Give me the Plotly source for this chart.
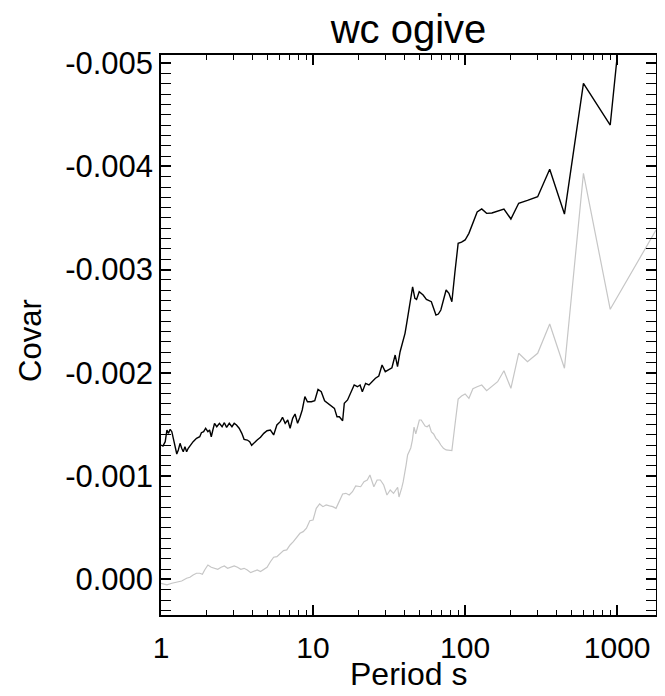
import plotly.graph_objects as go

# ---------------- data ----------------
black_period = [
    1.000, 1.030, 1.066, 1.094, 1.120, 1.149, 1.178, 1.207, 1.238, 1.270,
    1.300, 1.334, 1.368, 1.401, 1.437, 1.474, 1.510, 1.565, 1.627, 1.712,
    1.798, 1.844, 1.908, 1.966, 2.034, 2.087, 2.141, 2.193, 2.249, 2.327,
    2.423, 2.522, 2.610, 2.701, 2.812, 2.928, 3.030, 3.136, 3.265, 3.400,
    3.519, 3.695, 3.830, 3.946, 4.083, 4.290, 4.513, 4.742, 4.982, 5.242,
    5.506, 5.783, 6.084, 6.296, 6.556, 6.815, 7.063, 7.343, 7.611, 7.912,
    8.201, 8.487, 8.836, 9.186, 9.750, 10.26, 10.78, 11.32, 11.91, 12.51,
    13.14, 13.82, 14.37, 14.89, 15.65, 16.05, 16.86, 17.71, 18.64, 19.57,
    20.38, 21.09, 22.15, 23.31, 24.49, 25.72, 27.06, 28.43, 29.85, 31.42,
    33.01, 34.67, 35.93, 37.36, 38.89, 40.25, 41.29, 42.99, 45.16, 46.73,
    47.93, 49.89, 52.96, 55.64, 59.96,
    64.29, 66.67, 69.23, 72.00, 75.00, 78.26, 81.82, 85.71, 90.00, 94.74,
    100.0, 105.9, 112.5, 120.0, 128.6, 138.5, 150.0, 163.6, 180.0, 200.0,
    225.0, 257.1, 300.0, 360.0, 450.0, 600.0, 900.0, 1800.0,
]
black_covar = [
    -1.302e-3, -1.292e-3, -1.334e-3, -1.447e-3, -1.415e-3, -1.454e-3, -1.431e-3, -1.367e-3, -1.302e-3, -1.215e-3,
    -1.254e-3, -1.318e-3, -1.270e-3, -1.237e-3, -1.286e-3, -1.237e-3, -1.270e-3, -1.302e-3, -1.334e-3, -1.367e-3,
    -1.382e-3, -1.421e-3, -1.431e-3, -1.464e-3, -1.431e-3, -1.447e-3, -1.382e-3, -1.447e-3, -1.512e-3, -1.479e-3,
    -1.512e-3, -1.479e-3, -1.518e-3, -1.473e-3, -1.512e-3, -1.479e-3, -1.512e-3, -1.496e-3, -1.464e-3, -1.415e-3,
    -1.357e-3, -1.350e-3, -1.334e-3, -1.299e-3, -1.324e-3, -1.350e-3, -1.377e-3, -1.415e-3, -1.440e-3, -1.447e-3,
    -1.399e-3, -1.496e-3, -1.528e-3, -1.570e-3, -1.512e-3, -1.544e-3, -1.464e-3, -1.560e-3, -1.602e-3, -1.512e-3,
    -1.570e-3, -1.641e-3, -1.770e-3, -1.721e-3, -1.721e-3, -1.731e-3, -1.840e-3, -1.818e-3, -1.730e-3, -1.706e-3,
    -1.673e-3, -1.657e-3, -1.576e-3, -1.576e-3, -1.537e-3, -1.706e-3, -1.738e-3, -1.803e-3, -1.883e-3, -1.866e-3,
    -1.883e-3, -1.818e-3, -1.899e-3, -1.883e-3, -1.915e-3, -1.948e-3, -1.970e-3, -2.076e-3, -2.012e-3, -2.028e-3,
    -2.050e-3, -2.173e-3, -2.060e-3, -2.205e-3, -2.302e-3, -2.383e-3, -2.480e-3, -2.641e-3, -2.834e-3, -2.722e-3,
    -2.712e-3, -2.786e-3, -2.754e-3, -2.712e-3, -2.689e-3,
    -2.560e-3, -2.570e-3, -2.609e-3, -2.706e-3, -2.803e-3, -2.771e-3, -2.689e-3, -2.977e-3, -3.255e-3, -3.267e-3,
    -3.287e-3, -3.351e-3, -3.461e-3, -3.558e-3, -3.587e-3, -3.545e-3, -3.548e-3, -3.567e-3, -3.587e-3, -3.490e-3,
    -3.642e-3, -3.670e-3, -3.706e-3, -3.971e-3, -3.538e-3, -4.804e-3, -4.400e-3, -8.760e-3,
]

grey_period = [
    1.000, 1.094, 1.178, 1.270, 1.368, 1.474, 1.549, 1.627, 1.712, 1.798,
    1.872, 1.937, 2.034, 2.141, 2.249, 2.362, 2.485, 2.610, 2.743, 2.885,
    3.030, 3.184, 3.349, 3.519, 3.695, 3.890, 4.083, 4.290, 4.513, 4.742,
    4.982, 5.242, 5.506, 5.783, 6.084, 6.392, 6.714, 7.063, 7.419, 7.796,
    8.201, 8.614, 9.049, 9.519, 10.00, 10.50, 11.05, 11.61, 12.20, 12.83,
    13.48, 14.16, 14.89, 15.65, 16.44, 17.29, 18.16, 19.08, 20.56, 21.63,
    22.73, 23.66, 25.11, 26.38, 27.71, 29.15, 30.63, 32.17, 33.84,
    36.00, 36.73, 37.50, 38.30, 39.13, 40.00, 40.91, 41.86, 42.86, 43.90,
    45.00, 46.15, 47.37, 48.65, 50.00, 51.43, 52.94, 54.55, 56.25, 58.06,
    60.00, 62.07, 64.29, 66.67, 69.23, 72.00, 75.00, 78.26, 81.82, 85.71,
    90.00, 94.74, 100.0, 105.9, 112.5, 120.0, 128.6, 138.5, 150.0, 163.6,
    180.0, 200.0, 225.0, 257.1, 300.0, 360.0, 450.0, 600.0, 900.0, 1800.0,
]
grey_covar = [
    0.037e-3, 0.053e-3, 0.037e-3, 0.027e-3, 0.015e-3, -0.012e-3, -0.021e-3, -0.044e-3, -0.060e-3, -0.060e-3,
    -0.050e-3, -0.092e-3, -0.140e-3, -0.118e-3, -0.108e-3, -0.099e-3, -0.118e-3, -0.131e-3, -0.108e-3, -0.118e-3,
    -0.131e-3, -0.118e-3, -0.099e-3, -0.108e-3, -0.092e-3, -0.066e-3, -0.076e-3, -0.092e-3, -0.076e-3, -0.099e-3,
    -0.118e-3, -0.172e-3, -0.215e-3, -0.221e-3, -0.247e-3, -0.279e-3, -0.286e-3, -0.334e-3, -0.366e-3, -0.409e-3,
    -0.447e-3, -0.463e-3, -0.496e-3, -0.569e-3, -0.576e-3, -0.689e-3, -0.731e-3, -0.705e-3, -0.721e-3, -0.712e-3,
    -0.705e-3, -0.689e-3, -0.753e-3, -0.828e-3, -0.834e-3, -0.818e-3, -0.850e-3, -0.905e-3, -0.898e-3, -0.947e-3,
    -0.963e-3, -1.012e-3, -0.898e-3, -0.963e-3, -0.963e-3, -0.915e-3, -0.818e-3, -0.866e-3, -0.834e-3,
    -0.893e-3, -0.799e-3, -0.837e-3, -0.886e-3, -0.944e-3, -1.012e-3, -1.108e-3, -1.205e-3, -1.237e-3, -1.273e-3,
    -1.350e-3, -1.476e-3, -1.409e-3, -1.467e-3, -1.544e-3, -1.544e-3, -1.518e-3, -1.486e-3, -1.479e-3, -1.496e-3,
    -1.428e-3, -1.409e-3, -1.367e-3, -1.341e-3, -1.302e-3, -1.270e-3, -1.254e-3, -1.254e-3, -1.247e-3, -1.496e-3,
    -1.747e-3, -1.776e-3, -1.796e-3, -1.754e-3, -1.847e-3, -1.866e-3, -1.883e-3, -1.828e-3, -1.866e-3, -1.915e-3,
    -2.021e-3, -1.851e-3, -2.190e-3, -2.108e-3, -2.190e-3, -2.473e-3, -2.045e-3, -3.932e-3, -2.616e-3, -3.383e-3,
]

x_tick_vals = [1, 10, 100, 1000]
x_tick_text = ["1", "10", "100", "1000"]
x_minor_vals = [m * d for d in (1, 10, 100, 1000) for m in range(2, 10)]
y_tick_vals = [-0.005, -0.004, -0.003, -0.002, -0.001, 0.0]
y_tick_text = ["-0.005", "-0.004", "-0.003", "-0.002", "-0.001", "0.000"]

FONT = "Liberation Sans, Arial, Helvetica, sans-serif"
X_RANGE = [0, 3.2553]

fig = go.Figure()
fig.add_trace(go.Scatter(x=grey_period, y=grey_covar, mode="lines",
                         line=dict(color="#c6c6c6", width=1.2), showlegend=False,
                         hoverinfo="skip"))
fig.add_trace(go.Scatter(x=black_period, y=black_covar, mode="lines",
                         line=dict(color="#000000", width=1.4), showlegend=False,
                         hoverinfo="skip"))
# empty helper trace so the overlaying axis (minor x ticks) is drawn
fig.add_trace(go.Scatter(x=[], y=[], xaxis="x2", mode="lines", showlegend=False,
                         hoverinfo="skip"))

fig.update_layout(
    xaxis=dict(
        type="log", range=X_RANGE,
        tickmode="array", tickvals=x_tick_vals, ticktext=x_tick_text,
        showline=True, linecolor="black", linewidth=1.5, mirror="allticks",
        ticks="inside", ticklen=10, tickwidth=1.5, tickcolor="#000000",
        showgrid=False, zeroline=False, automargin=False,
        tickfont=dict(family=FONT, size=30, color="black"),
        ticklabelstandoff=5,
    ),
    xaxis2=dict(
        type="log", range=X_RANGE, overlaying="x", anchor="y", side="bottom",
        tickmode="array", tickvals=x_minor_vals, showticklabels=False,
        showline=True, linecolor="black", linewidth=1.5, mirror="allticks",
        ticks="inside", ticklen=5, tickwidth=1.2, tickcolor="#000000",
        showgrid=False, zeroline=False, automargin=False,
    ),
    yaxis=dict(
        range=[0.000344, -0.005078],
        tickmode="array", tickvals=y_tick_vals, ticktext=y_tick_text,
        showline=True, linecolor="black", linewidth=1.5, mirror="allticks",
        ticks="inside", ticklen=10, tickwidth=1.5, tickcolor="#000000",
        minor=dict(tickmode="linear", tick0=0, dtick=0.0001, ticks="inside",
                   ticklen=5, tickwidth=1.2, tickcolor="#000000", showgrid=False),
        showgrid=False, zeroline=False, automargin=False,
        tickfont=dict(family=FONT, size=31, color="black"),
    ),
    width=665, height=696,
    margin=dict(l=153, r=17, t=47, b=89),
    paper_bgcolor="white", plot_bgcolor="white",
    font=dict(family=FONT, color="black"),
    title=dict(text="wc ogive", x=0.5, xref="paper", xanchor="center",
               y=1 - 21 / 696, yref="container", yanchor="middle",
               font=dict(family=FONT, size=40, color="black")),
    annotations=[
        dict(text="Period s", xref="paper", yref="paper", x=0.5, y=-0.105,
             xanchor="center", yanchor="middle", showarrow=False,
             font=dict(family=FONT, size=32, color="black")),
        dict(text="Covar", xref="paper", yref="paper", x=-0.264, y=0.49,
             xanchor="center", yanchor="middle", textangle=-90, showarrow=False,
             font=dict(family=FONT, size=31, color="black")),
    ],
)

fig.write_html("out.html")
